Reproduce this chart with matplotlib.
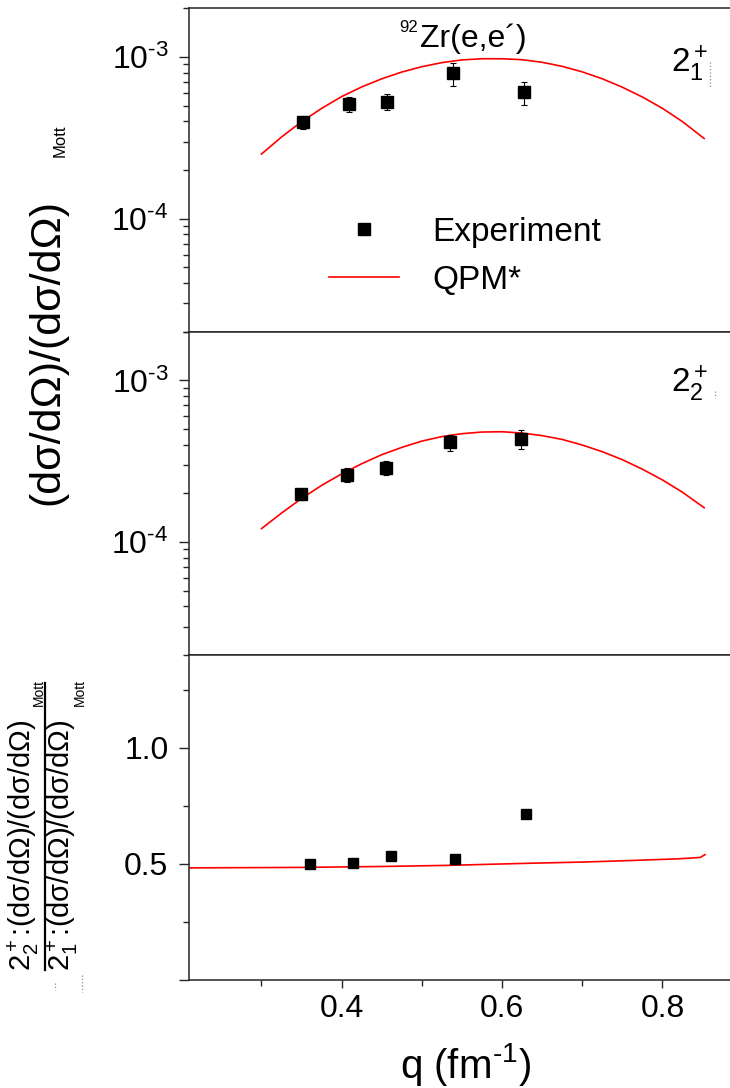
import numpy as np
import matplotlib
matplotlib.use('Agg')
import matplotlib.pyplot as plt
from matplotlib.lines import Line2D
from matplotlib.ticker import FixedLocator, FixedFormatter, NullFormatter, LogLocator

plt.rcParams['font.family'] = ['Liberation Sans', 'DejaVu Sans']
plt.rcParams['mathtext.fontset'] = 'custom'
plt.rcParams['mathtext.rm'] = 'Liberation Sans'
plt.rcParams['mathtext.it'] = 'Liberation Sans:italic'
plt.rcParams['mathtext.bf'] = 'Liberation Sans:bold'
plt.rcParams['mathtext.default'] = 'regular'

# measured form factors, 2+_1 state
q_21 = [0.352, 0.409, 0.457, 0.539, 0.627]
ff_21 = [3.96e-4, 5.12e-4, 5.30e-4, 7.93e-4, 6.05e-4]
ff_21_err = [0.37e-4, 0.52e-4, 0.57e-4, 1.3e-4, 1.0e-4]

# measured form factors, 2+_2 state
q_22 = [0.349, 0.407, 0.455, 0.535, 0.623]
ff_22 = [1.98e-4, 2.60e-4, 2.88e-4, 4.13e-4, 4.33e-4]
ff_22_err = [0.16e-4, 0.25e-4, 0.28e-4, 0.45e-4, 0.58e-4]

# ratio 2+_2 / 2+_1
q_ratio = [0.360, 0.414, 0.461, 0.541, 0.630]
ratio = [0.499, 0.506, 0.536, 0.522, 0.713]

# QPM* calculation
q_qpm = [0.30, 0.325, 0.35, 0.375, 0.40, 0.425, 0.45, 0.475, 0.50, 0.525, 0.55, 0.575,
         0.60, 0.625, 0.65, 0.675, 0.70, 0.725, 0.75, 0.775, 0.80, 0.825, 0.852]
qpm1 = [2.51e-4, 3.20e-4, 3.98e-4, 4.81e-4, 5.69e-4, 6.53e-4, 7.33e-4, 8.07e-4,
        8.71e-4, 9.23e-4, 9.59e-4, 9.75e-4, 9.75e-4, 9.62e-4, 9.27e-4, 8.75e-4,
        8.09e-4, 7.33e-4, 6.50e-4, 5.65e-4, 4.81e-4, 3.98e-4, 3.13e-4]
qpm2 = [1.21e-4, 1.51e-4, 1.86e-4, 2.24e-4, 2.64e-4, 3.05e-4, 3.47e-4, 3.85e-4,
        4.21e-4, 4.49e-4, 4.68e-4, 4.79e-4, 4.81e-4, 4.72e-4, 4.55e-4, 4.31e-4,
        3.98e-4, 3.62e-4, 3.23e-4, 2.82e-4, 2.42e-4, 2.03e-4, 1.63e-4]

q_qpm_ratio = [0.21, 0.35, 0.45, 0.535, 0.635, 0.70, 0.763, 0.82, 0.847, 0.853]
qpm_ratio = [0.483, 0.485, 0.489, 0.494, 0.503, 0.508, 0.515, 0.522, 0.528, 0.540]

W, H = 730, 1088
fig = plt.figure(figsize=(W / 100, H / 100), dpi=100)


def box(x0, y0, x1, y1):
    # pixel box (top-left origin) -> figure fraction rect
    return [x0 / W, 1 - y1 / H, (x1 - x0) / W, (y1 - y0) / H]


ax1 = fig.add_axes(box(189.3, 8.3, 742.7, 331.7))
ax2 = fig.add_axes(box(189.3, 331.7, 742.7, 655))
ax3 = fig.add_axes(box(189.3, 655, 742.7, 980))

for ax in (ax1, ax2, ax3):
    ax.set_xlim(0.21, 0.90)
    ax.xaxis.set_major_locator(FixedLocator([0.4, 0.6, 0.8]))
    ax.xaxis.set_minor_locator(FixedLocator([0.3, 0.5, 0.7]))
    ax.tick_params(which='both', direction='out', width=1.0, colors='0.15',
                   labelcolor='black', labelsize=23, top=False, right=False)
    ax.tick_params(axis='x', which='major', length=6, pad=4)
    ax.tick_params(axis='x', which='minor', length=4)
    ax.tick_params(axis='y', which='major', length=7, pad=8)
    ax.tick_params(axis='y', which='minor', length=4)
    for s in ax.spines.values():
        s.set_linewidth(1.1)
        s.set_color('0.15')
    ax.spines['right'].set_visible(False)

for ax in (ax1, ax2):
    ax.set_yscale('log')
    ax.set_ylim(2e-5, 2e-3)
    ax.yaxis.set_major_locator(FixedLocator([1e-4, 1e-3]))
    ax.yaxis.set_major_formatter(FixedFormatter([r'10$^{\text{-4}}$', r'10$^{\text{-3}}$']))
    ax.yaxis.set_minor_locator(LogLocator(base=10, subs=np.arange(2, 10)))
    ax.yaxis.set_minor_formatter(NullFormatter())
    ax.tick_params(axis='x', labelbottom=False)

ax1.plot(q_qpm, qpm1, color='red', lw=1.2)
ax1.errorbar(q_21, ff_21, yerr=ff_21_err, fmt='s', color='black', ms=8,
             elinewidth=0.8, capsize=2.5, capthick=0.8)

ax2.plot(q_qpm, qpm2, color='red', lw=1.2)
ax2.errorbar(q_22, ff_22, yerr=ff_22_err, fmt='s', color='black', ms=8,
             elinewidth=0.8, capsize=2.5, capthick=0.8)

ax3.plot(q_qpm_ratio, qpm_ratio, color='red', lw=1.2)
ax3.plot(q_ratio, ratio, 's', color='black', ms=7)
ax3.set_ylim(0, 1.4)
ax3.yaxis.set_major_locator(FixedLocator([0.0, 0.5, 1.0]))
ax3.yaxis.set_major_formatter(FixedFormatter(['', '0.5', '1.0']))
ax3.yaxis.set_minor_locator(FixedLocator([0.25, 0.75, 1.25]))
ax3.set_xlabel(r'q (fm$^{\text{-1}}$)', fontsize=29, labelpad=12)

handles = [Line2D([], [], ls='none', marker='s', ms=9, color='black'),
           Line2D([], [], color='red', lw=1.2)]
ax1.legend(handles, ['Experiment', 'QPM*'], loc='upper left',
           bbox_to_anchor=(329 / W, 1 - 217 / H), bbox_transform=fig.transFigure,
           frameon=False, fontsize=24, handlelength=2.1, handletextpad=1.0,
           labelspacing=0.5, borderpad=0, borderaxespad=0)

# reaction label and state labels
fig.text(420 / W, 1 - 47 / H, 'Zr(e,e´)', fontsize=23, ha='left', va='baseline')
fig.text(418 / W, 1 - 31.7 / H, '92', fontsize=12, ha='right', va='baseline')
fig.text(671 / W, 1 - 72 / H, r'$2^+_1$', fontsize=24, ha='left', va='baseline')
fig.text(671 / W, 1 - 392 / H, r'$2^+_2$', fontsize=24, ha='left', va='baseline')

# shared y label for the two cross-section panels
fig.text(47 / W, 1 - 352 / H, '(dσ/dΩ)/(dσ/dΩ)', rotation=90, fontsize=31,
         ha='center', va='center')
fig.text(60 / W, 1 - 141 / H, 'Mott', rotation=90, fontsize=12,
         ha='center', va='center')

# ratio label written as a fraction
fig.text(23 / W, 1 - 845 / H, r'$2^+_2$:(dσ/dΩ)/(dσ/dΩ)', rotation=90,
         fontsize=21, ha='center', va='center')
fig.text(62 / W, 1 - 845 / H, r'$2^+_1$:(dσ/dΩ)/(dσ/dΩ)', rotation=90,
         fontsize=21, ha='center', va='center')
fig.text(39 / W, 1 - 692 / H, 'Mott', rotation=90, fontsize=10,
         ha='center', va='center')
fig.text(80 / W, 1 - 692 / H, 'Mott', rotation=90, fontsize=10,
         ha='center', va='center')
fig.add_artist(Line2D([45 / W, 45 / W], [1 - 683 / H, 1 - 970 / H],
                      color='black', lw=1.6))

# faint dotted marks next to the state labels
fig.add_artist(Line2D([710 / W, 710 / W], [1 - 62 / H, 1 - 88 / H],
                      color='0.55', lw=0.9, ls=':'))
fig.add_artist(Line2D([715 / W, 715 / W], [1 - 391 / H, 1 - 398 / H],
                      color='0.55', lw=0.9, ls=':'))
fig.add_artist(Line2D([55 / W, 55 / W], [1 - 983 / H, 1 - 990 / H],
                      color='0.55', lw=0.9, ls=':'))
fig.add_artist(Line2D([82 / W, 82 / W], [1 - 975 / H, 1 - 992 / H],
                      color='0.55', lw=0.9, ls=':'))

fig.savefig('out.png', dpi=100)
